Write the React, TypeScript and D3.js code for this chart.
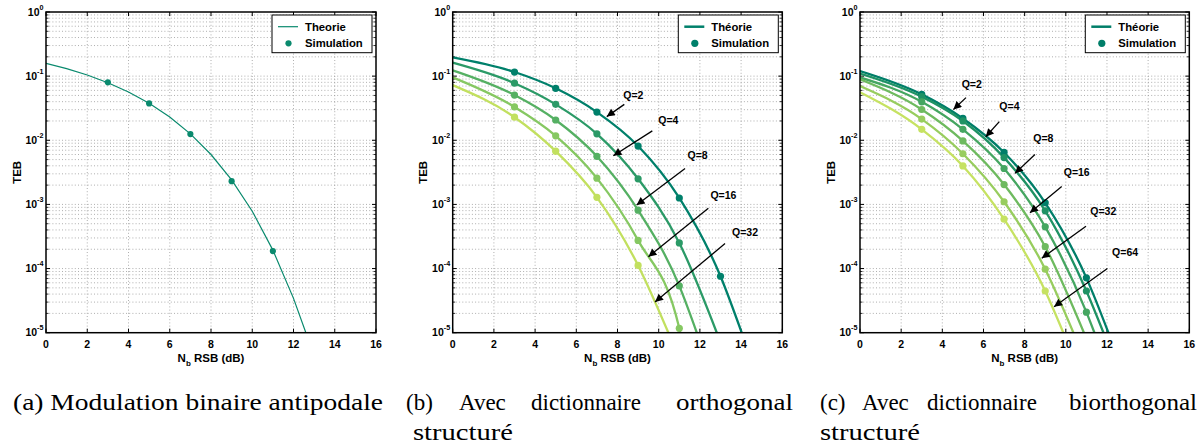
import React from "react";
import * as d3 from "d3";

// ---------- shared axes ----------
const X_TICKS = [0, 2, 4, 6, 8, 10, 12, 14, 16];
const Y_EXPONENTS = [0, -1, -2, -3, -4, -5];

// ---------- panel (a) ----------
const A_THEORY_X = [0, 1, 2, 3, 4, 5, 6, 7, 8, 9, 10, 11, 12, 12.6];
const A_THEORY_Y = [0.1587, 0.1309, 0.104, 0.0789, 0.0565, 0.0377, 0.023, 0.0126, 0.006, 0.00242, 7.83e-4, 1.94e-4, 3.43e-5, 1.0e-5];
const A_SIM_X = [3, 5, 7, 9, 11];
const A_SIM_Y = [0.08, 0.0376, 0.0125, 0.0023, 1.87e-4];
const A_COLOR = "#0a8a6e";

// ---------- panel (b) : orthogonal ----------
const B_LABELS = ["Q=2", "Q=4", "Q=8", "Q=16", "Q=32"];
const B_COLORS = ["#00806b", "#2b9a67", "#55b063", "#86c862", "#c2e05f"];
const B_THEORY_X = [
  [0, 3, 5, 7, 9, 11, 13, 14.03],
  [0, 3, 5, 7, 9, 11, 12.82],
  [0, 3, 5, 7, 9, 11, 11.85],
  [0, 3, 5, 7, 9, 11, 11.04],
  [0, 3, 5, 7, 9, 10.47],
];
const B_THEORY_Y = [
  [0.196, 0.1159, 0.0646, 0.0275, 0.00813, 0.00126, 7.59e-5, 1e-5],
  [0.162, 0.0776, 0.0363, 0.0126, 0.00251, 2.51e-4, 1e-5],
  [0.123, 0.0507, 0.0207, 0.00562, 8.13e-4, 5.37e-5, 1e-5],
  [0.0955, 0.0331, 0.01175, 0.00257, 2.75e-4, 1.17e-5, 1e-5],
  [0.0724, 0.0229, 0.00676, 0.00129, 1.12e-4, 1e-5],
];
const B_SIM_X = [
  [3, 5, 7, 9, 11, 13],
  [3, 5, 7, 9, 11],
  [3, 5, 7, 9, 11],
  [3, 5, 7, 9, 11],
  [3, 5, 7, 9],
];
const B_SIM_Y = [
  [0.1159, 0.0646, 0.0275, 0.00813, 0.00126, 7.59e-5],
  [0.0776, 0.0363, 0.0126, 0.00251, 2.51e-4],
  [0.0507, 0.0207, 0.00562, 8.13e-4, 5.37e-5],
  [0.0331, 0.01175, 0.00257, 2.75e-4, 1.17e-5],
  [0.0229, 0.00676, 0.00129, 1.12e-4],
];
// annotation (data coordinates): label centre, arrow start, arrow tip
const B_LABEL_X = [8.77, 10.47, 11.89, 13.14, 14.19];
const B_LABEL_Y = [0.0513, 0.0202, 0.00589, 0.00141, 3.67e-4];
const B_ARROW_X0 = [8.33, 9.69, 11.28, 12.41, 13.22];
const B_ARROW_Y0 = [0.0363, 0.014, 0.00363, 8.7e-4, 2.45e-4];
const B_ARROW_X1 = [7.48, 7.8, 8.93, 9.5, 9.82];
const B_ARROW_Y1 = [0.0234, 0.00575, 9.77e-4, 1.53e-4, 3.02e-5];

// ---------- panel (c) : biorthogonal ----------
const C_LABELS = ["Q=2", "Q=4", "Q=8", "Q=16", "Q=32", "Q=64"];
const C_COLORS = ["#007e69", "#1f9264", "#45a661", "#6eba5f", "#98cd5e", "#c6e262"];
const C_THEORY_X = [
  [0, 3, 5, 7, 9, 11, 12.07],
  [0, 3, 5, 7, 9, 11, 11.83],
  [0, 3, 5, 7, 9, 11, 11.39],
  [0, 3, 5, 7, 9, 10.88],
  [0, 3, 5, 7, 9, 10.37],
  [0, 3, 5, 7, 9, 9.88],
];
const C_THEORY_Y = [
  [0.12, 0.052, 0.0219, 0.00646, 0.00106, 7.16e-5, 1e-5],
  [0.11, 0.0479, 0.02, 0.00537, 7.94e-4, 4.47e-5, 1e-5],
  [0.0955, 0.0398, 0.0148, 0.00363, 4.47e-4, 2.09e-5, 1e-5],
  [0.0891, 0.0302, 0.00977, 0.00204, 2.19e-4, 1e-5],
  [0.07, 0.0214, 0.00617, 0.0011, 9.77e-5, 1e-5],
  [0.0562, 0.0148, 0.00398, 5.89e-4, 4.47e-5, 1e-5],
];
const C_SIM_X = [
  [3, 5, 7, 9, 11],
  [3, 5, 7, 9, 11],
  [3, 5, 7, 9, 11],
  [3, 5, 7, 9],
  [3, 5, 7, 9],
  [3, 5, 7, 9],
];
const C_SIM_Y = [
  [0.052, 0.0219, 0.00646, 0.00106, 7.16e-5],
  [0.0479, 0.02, 0.00537, 7.94e-4, 4.47e-5],
  [0.0398, 0.0148, 0.00363, 4.47e-4, 2.09e-5],
  [0.0302, 0.00977, 0.00204, 2.19e-4],
  [0.0214, 0.00617, 0.0011, 9.77e-5],
  [0.0148, 0.00398, 5.89e-4, 4.47e-5],
];
const C_LABEL_X = [5.43, 7.26, 8.91, 10.53, 11.82, 12.88];
const C_LABEL_Y = [0.0741, 0.0343, 0.0107, 0.00313, 7.76e-4, 1.82e-4];
const C_ARROW_X0 = [5.15, 6.77, 8.5, 9.8, 10.98, 12.02];
const C_ARROW_Y0 = [0.0462, 0.0195, 0.006, 0.0019, 4.57e-4, 1.0e-4];
const C_ARROW_X1 = [4.54, 6.11, 7.53, 8.26, 8.83, 9.43];
const C_ARROW_Y1 = [0.0302, 0.01135, 0.00305, 7.41e-4, 1.45e-4, 2.54e-5];

const SANS = "'Liberation Sans', Arial, Helvetica, sans-serif";
const SERIF = "'Liberation Serif', 'Times New Roman', serif";

const TOP = 12;
const BOTTOM = 332.7;

type Series = { xs: number[]; ys: number[]; sx: number[]; sy: number[]; color: string };
type Annot = { label: string; lx: number; ly: number; x0: number; y0: number; x1: number; y1: number };

function Panel(props: {
  id: string;
  left: number;
  right: number;
  series: Series[];
  annots: Annot[];
  thin: boolean;
  theoryLabel: string;
  legendColor: string;
}) {
  const { id, left, right, series, annots, thin, theoryLabel, legendColor } = props;
  const x = d3.scaleLinear().domain([0, 16]).range([left, right]);
  const y = d3.scaleLog().domain([1e-5, 1]).range([BOTTOM, TOP]);
  const line = d3
    .line<[number, number]>()
    .x((d) => x(d[0]))
    .y((d) => y(d[1]))
    .curve(thin ? d3.curveLinear : d3.curveMonotoneX);

  const minor: number[] = [];
  for (let e = -5; e < 0; e++) for (let m = 2; m <= 9; m++) minor.push(m * Math.pow(10, e));
  const majors = Y_EXPONENTS.map((e) => Math.pow(10, e));

  const gridStyle = { stroke: "#9a9a9a", strokeWidth: 0.8, strokeDasharray: "1 2.2" };
  const cx = (left + right) / 2;
  const cy = (TOP + BOTTOM) / 2;
  const lw = thin ? 1.2 : 2.3;
  const mr = thin ? 3.1 : 3.6;
  const legRight = right - 4;
  const legLeft = legRight - 100;

  return (
    <g>
      <defs>
        <clipPath id={"clip-" + id}>
          <rect x={left} y={TOP} width={right - left} height={BOTTOM - TOP} />
        </clipPath>
        <marker id={"arr-" + id} viewBox="0 0 10 10" refX="10" refY="5" markerWidth="11" markerHeight="8" markerUnits="userSpaceOnUse" orient="auto">
          <path d="M0,0 L10,5 L0,10 z" fill="#000" />
        </marker>
      </defs>
      <rect x={left} y={TOP} width={right - left} height={BOTTOM - TOP} fill="#fff" />
      {/* grid */}
      {X_TICKS.slice(1, -1).map((t) => (
        <line key={"gx" + t} x1={x(t)} x2={x(t)} y1={TOP} y2={BOTTOM} style={gridStyle} />
      ))}
      {[...minor, ...majors.slice(1, -1)].map((v, i) => (
        <line key={"gy" + i} x1={left} x2={right} y1={y(v)} y2={y(v)} style={gridStyle} />
      ))}
      {/* ticks */}
      {X_TICKS.map((t) => (
        <g key={"tx" + t}>
          <line x1={x(t)} x2={x(t)} y1={BOTTOM} y2={BOTTOM - 4} stroke="#000" strokeWidth={1} />
          <line x1={x(t)} x2={x(t)} y1={TOP} y2={TOP + 4} stroke="#000" strokeWidth={1} />
          <text x={x(t)} y={BOTTOM + 14.8} textAnchor="middle" fontFamily={SANS} fontWeight="bold" fontSize={10.5}>
            {t}
          </text>
        </g>
      ))}
      {majors.map((v, i) => (
        <g key={"ty" + i}>
          <line x1={left} x2={left + 4} y1={y(v)} y2={y(v)} stroke="#000" strokeWidth={1} />
          <line x1={right} x2={right - 4} y1={y(v)} y2={y(v)} stroke="#000" strokeWidth={1} />
          <text x={left - 2.5} y={y(v) + 3.6} textAnchor="end" fontFamily={SANS} fontWeight="bold" fontSize={10.5}>
            10
            <tspan dy={-6} fontSize={7.2}>
              {Y_EXPONENTS[i]}
            </tspan>
          </text>
        </g>
      ))}
      {minor.map((v, i) => (
        <g key={"my" + i}>
          <line x1={left} x2={left + 2.5} y1={y(v)} y2={y(v)} stroke="#000" strokeWidth={0.8} />
          <line x1={right} x2={right - 2.5} y1={y(v)} y2={y(v)} stroke="#000" strokeWidth={0.8} />
        </g>
      ))}
      {/* curves */}
      <g clipPath={`url(#clip-${id})`}>
        {series.map((s, i) => (
          <path
            key={"l" + i}
            d={line(s.xs.map((v, j) => [v, s.ys[j]] as [number, number])) || ""}
            fill="none"
            stroke={s.color}
            strokeWidth={lw}
          />
        ))}
        {series.map((s, i) =>
          s.sx.map((v, j) => <circle key={"m" + i + "-" + j} cx={x(v)} cy={y(s.sy[j])} r={mr} fill={s.color} />)
        )}
      </g>
      {/* annotations */}
      {annots.map((a, i) => (
        <g key={"a" + i}>
          <line x1={x(a.x0)} y1={y(a.y0)} x2={x(a.x1)} y2={y(a.y1)} stroke="#000" strokeWidth={1.3} markerEnd={`url(#arr-${id})`} />
          <text x={x(a.lx)} y={y(a.ly) + 3.8} textAnchor="middle" fontFamily={SANS} fontWeight="bold" fontSize={10.5}>
            {a.label}
          </text>
        </g>
      ))}
      {/* box */}
      <rect x={left} y={TOP} width={right - left} height={BOTTOM - TOP} fill="none" stroke="#000" strokeWidth={1.5} />
      {/* legend */}
      <rect x={legLeft} y={15} width={100} height={37.7} fill="#fff" stroke="#000" strokeWidth={1} />
      <line x1={legLeft + 6} x2={legLeft + 26} y1={26.7} y2={26.7} stroke={legendColor} strokeWidth={thin ? 1.2 : 2.5} />
      <circle cx={legLeft + 16.5} cy={43.3} r={mr} fill={legendColor} />
      <text x={legLeft + 33} y={30.6} fontFamily={SANS} fontWeight="bold" fontSize={11.3}>
        {theoryLabel}
      </text>
      <text x={legLeft + 33} y={47.3} fontFamily={SANS} fontWeight="bold" fontSize={11.3}>
        Simulation
      </text>
      {/* axis labels */}
      <text x={cx} y={BOTTOM + 28.8} textAnchor="middle" fontFamily={SANS} fontWeight="bold" fontSize={11.5}>
        N
        <tspan dy={4} fontSize={8}>
          b
        </tspan>
        <tspan dy={-4}> RSB (dB)</tspan>
      </text>
      <text
        transform={`translate(${left - 25.5},${cy}) rotate(-90)`}
        textAnchor="middle"
        fontFamily={SANS}
        fontWeight="bold"
        fontSize={11.5}
      >
        TEB
      </text>
    </g>
  );
}

function buildSeries(xs: number[][], ys: number[][], sx: number[][], sy: number[][], colors: string[]): Series[] {
  return xs.map((v, i) => ({ xs: v, ys: ys[i], sx: sx[i], sy: sy[i], color: colors[i] }));
}

function buildAnnots(labels: string[], lx: number[], ly: number[], x0: number[], y0: number[], x1: number[], y1: number[]): Annot[] {
  return labels.map((l, i) => ({ label: l, lx: lx[i], ly: ly[i], x0: x0[i], y0: y0[i], x1: x1[i], y1: y1[i] }));
}

export default function App() {
  React.useEffect(() => {
    document.body.style.margin = "0";
  }, []);
  const seriesA: Series[] = [{ xs: A_THEORY_X, ys: A_THEORY_Y, sx: A_SIM_X, sy: A_SIM_Y, color: A_COLOR }];
  const seriesB = buildSeries(B_THEORY_X, B_THEORY_Y, B_SIM_X, B_SIM_Y, B_COLORS);
  const seriesC = buildSeries(C_THEORY_X, C_THEORY_Y, C_SIM_X, C_SIM_Y, C_COLORS);
  const annB = buildAnnots(B_LABELS, B_LABEL_X, B_LABEL_Y, B_ARROW_X0, B_ARROW_Y0, B_ARROW_X1, B_ARROW_Y1);
  const annC = buildAnnots(C_LABELS, C_LABEL_X, C_LABEL_Y, C_ARROW_X0, C_ARROW_Y0, C_ARROW_X1, C_ARROW_Y1);
  const capStyle = { fontFamily: SERIF, fontSize: 23 };
  return (
    <svg width={1200} height={448} style={{ position: "absolute", left: 0, top: 0, background: "#fff" }}>
      <rect width={1200} height={448} fill="#fff" />
      <Panel id="a" left={46} right={376} series={seriesA} annots={[]} thin={true} theoryLabel="Theorie" legendColor={A_COLOR} />
      <Panel id="b" left={452.7} right={782.3} series={seriesB} annots={annB} thin={false} theoryLabel="Théorie" legendColor={B_COLORS[0]} />
      <Panel id="c" left={860} right={1189.3} series={seriesC} annots={annC} thin={false} theoryLabel="Théorie" legendColor={C_COLORS[0]} />
      {/* captions */}
      <g style={capStyle}>
        <text x={13} y={410} textLength={370} lengthAdjust="spacingAndGlyphs">(a) Modulation binaire antipodale</text>
        <text x={406} y={410}>(b)</text>
        <text x={459} y={410}>Avec</text>
        <text x={531} y={410}>dictionnaire</text>
        <text x={676} y={410} textLength={117} lengthAdjust="spacingAndGlyphs">orthogonal</text>
        <text x={413} y={440} textLength={100} lengthAdjust="spacingAndGlyphs">structuré</text>
        <text x={820} y={410}>(c)</text>
        <text x={862} y={410}>Avec</text>
        <text x={927} y={410}>dictionnaire</text>
        <text x={1069} y={410} textLength={128} lengthAdjust="spacingAndGlyphs">biorthogonal</text>
        <text x={820} y={440} textLength={100} lengthAdjust="spacingAndGlyphs">structuré</text>
      </g>
    </svg>
  );
}
